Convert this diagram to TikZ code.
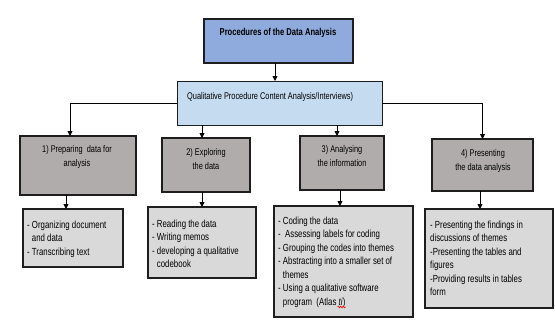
\documentclass[tikz,border=0pt]{standalone}
\usepackage{fontspec}
\setmainfont{Liberation Sans}
\newfontfamily\nar[FakeStretch=0.76]{Liberation Sans}
\usetikzlibrary{arrows.meta,calc,decorations.pathmorphing}
\definecolor{topblue}{HTML}{8FAADC}
\definecolor{qblue}{HTML}{C5DBF0}
\definecolor{midgray}{HTML}{B0ACAC}
\definecolor{lowgray}{HTML}{D9D9D9}
\definecolor{edge}{HTML}{1E1E1E}
\tikzset{
  boxbase/.style={draw=edge, inner sep=0pt, outer sep=0pt},
  topbox/.style={boxbase, fill=topblue, line width=1.3pt},
  qbox/.style={boxbase, fill=qblue, line width=0.8pt},
  midbox/.style={boxbase, fill=midgray, line width=1.4pt},
  lowbox/.style={boxbase, fill=lowgray, line width=1.9pt},
  midtxt/.style={inner sep=0pt, align=center, font=\nar\fontsize{9.7}{14}\selectfont},
  lowtxt/.style={inner sep=0pt, align=left, anchor=north west, font=\nar\fontsize{10.3}{13.5}\selectfont},
  arr/.style={draw=black, line width=0.8pt, -{Triangle[length=5pt,width=5pt]}},
  conn/.style={draw=black, line width=0.8pt}
}
\begin{document}
\begin{tikzpicture}[x=1pt,y=-1pt]
\useasboundingbox (0,0) rectangle (555,324);
% boxes: center and size
\node[topbox, minimum width=149pt, minimum height=44pt] (top) at (278.5,41) {};
\node[font=\nar\fontsize{10}{11}\selectfont\bfseries, inner sep=0pt] (toptxt) at (278,33) {Procedures of the Data Analysis};

\node[qbox, minimum width=205pt, minimum height=44pt] (q) at (279.5,103) {};
\node[font=\nar\fontsize{9.7}{11}\selectfont, inner sep=0pt, anchor=west] (qtxt) at (187,97) {Qualitative Procedure Content Analysis/Interviews)};

\node[midbox, minimum width=116pt, minimum height=59pt] (b1) at (78,165.5) {};
\node[midtxt] (b1t) at (77,156.5) {1) Preparing\ \ data for\\analysis};
\node[midbox, minimum width=88pt, minimum height=54pt] (b2) at (206,165) {};
\node[midtxt] (b2t) at (206,159) {2) Exploring\\the data};
\node[midbox, minimum width=84pt, minimum height=54pt] (b3) at (342,163) {};
\node[midtxt] (b3t) at (342,156.5) {3) Analysing\\the information};
\node[midbox, minimum width=101pt, minimum height=52pt] (b4) at (482.5,165) {};
\node[midtxt] (b4t) at (483,160.5) {4) Presenting\\the data analysis};

\node[lowbox, minimum width=100pt, minimum height=58pt] (c1) at (73,238) {};
\node[lowtxt] (c1t) at (27,220.5) {- Organizing document\\\phantom{- }and data\\- Transcribing text};
\node[lowbox, minimum width=108pt, minimum height=71pt] (c2) at (202,242.5) {};
\node[lowtxt] (c2t) at (152,219.5) {- Reading the data\\- Writing memos\\- developing a qualitative\\\phantom{- }codebook};
\node[lowbox, minimum width=139pt, minimum height=111pt] (c3) at (343.5,261.5) {};
\node[lowtxt] (c3t) at (278,216.5) {- Coding the data\\-\ \ Assessing labels for coding\\- Grouping\ the codes into themes\\- Abstracting into a smaller set of\\\phantom{- }themes\\- Using a qualitative software\\\phantom{- }program\ \ (Atlas \textit{ti})};
\node[lowbox, minimum width=128pt, minimum height=99pt] (c4) at (489,258.5) {};
\node[lowtxt] (c4t) at (430,220.5) {- Presenting the findings in\\discussions of themes\\-Presenting the tables and\\figures\\-Providing results in tables\\form};

% spell-check squiggle under "ti"
\coordinate (sq1) at (337.5,307);
\coordinate (sq2) at (345.5,307);
\draw[red, line width=0.6pt, decorate, decoration={snake, amplitude=0.8pt, segment length=2.5pt}] (sq1) -- (sq2);

% connectors
\draw[arr] ([xshift=-3.5pt]top.south) -- ([xshift=-4.5pt]q.north);
\draw[arr] (q.west) -| ([xshift=-8pt]b1.north);
\draw[arr] (q.east) -| (b4.north);
\draw[arr] ([xshift=-77.5pt]q.south) -- ([xshift=-4pt]b2.north);
\draw[arr] ([xshift=57.5pt]q.south) -- ([xshift=-5pt]b3.north);

\draw[arr] ([xshift=-12pt]b1.south) -- ([xshift=-7pt]c1.north);
\draw[arr] ([xshift=-4pt]b2.south) -- (c2.north);
\draw[arr] ([xshift=-2pt]b3.south) -- ([xshift=-3.5pt]c3.north);
\draw[arr] ([xshift=-2.5pt]b4.south) -- ([xshift=-9pt]c4.north);
\end{tikzpicture}
\end{document}
